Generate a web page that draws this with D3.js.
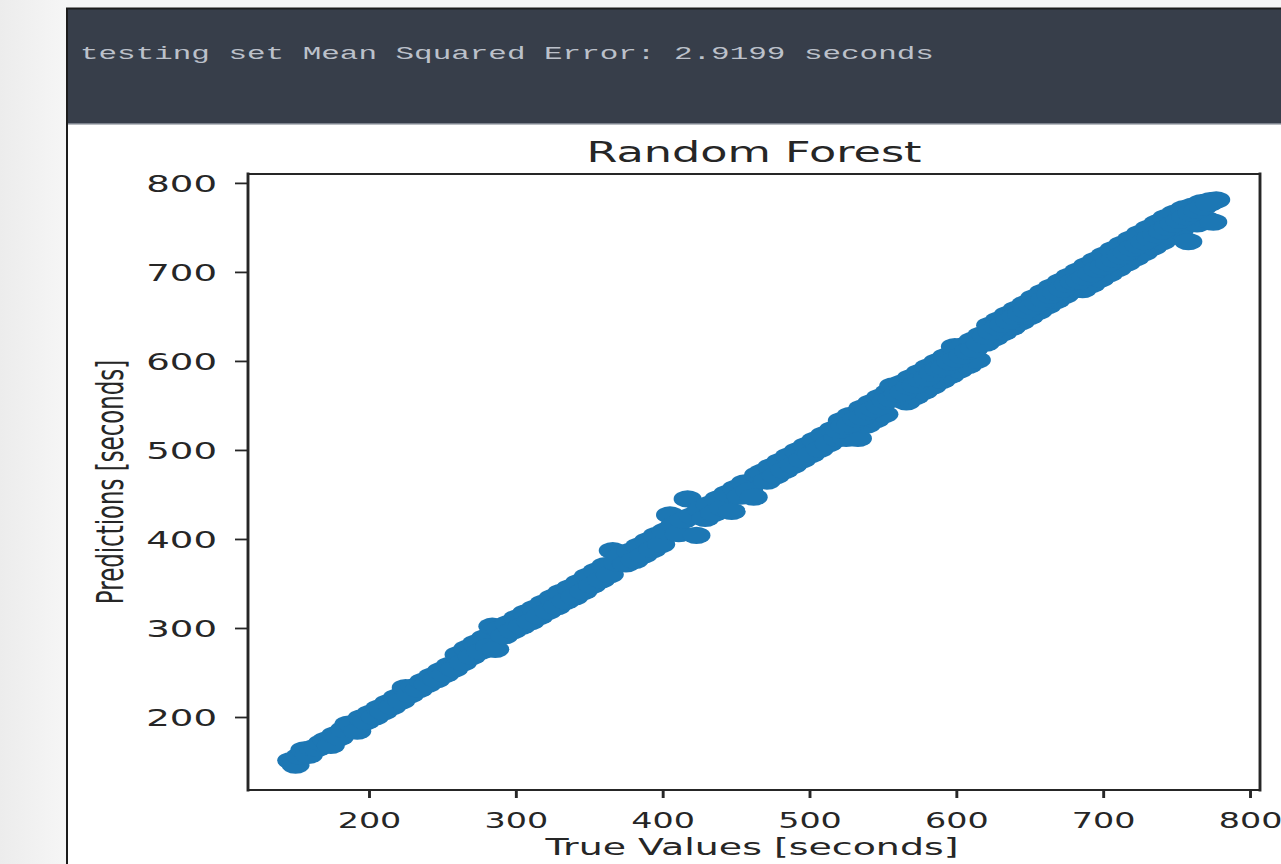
<!DOCTYPE html>
<html>
<head>
<meta charset="utf-8">
<script src="https://cdn.jsdelivr.net/npm/d3@7"></script>
<style>
  html, body { margin: 0; padding: 0; background: #f4f4f4; }
  svg { display: block; }
</style>
</head>
<body>
<svg id="chart" width="1281" height="864"></svg>
<script>
// ---- text ----
const headerText = "testing set Mean Squared Error: 2.9199 seconds";
const chartTitle = "Random Forest";
const xLabel = "True Values [seconds]";
const yLabel = "Predictions [seconds]";

// ---- tick labels ----
const xTicks = [200, 300, 400, 500, 600, 700, 800];
const yTicks = [200, 300, 400, 500, 600, 700, 800];

// ---- test-set samples: true duration vs. model prediction (seconds) ----
const trueValues = [
  147,150,153,156,159,162,165,168,171,174,177,180,183,186,189,192,195,198,201,204,
  207,210,213,216,219,222,225,228,231,234,237,240,243,246,249,252,255,258,
  261,264,267,270,273,276,279,282,284,286,289,292,295,298,301,304,307,310,313,316,
  319,322,325,328,331,334,337,340,343,346,349,352,355,358,361,364,366,369,372,375,
  378,381,384,387,390,393,396,399,402,405,408,411,414,417,420,423,426,429,432,435,
  438,441,444,447,450,453,456,459,462,465,468,471,474,477,480,483,486,489,492,495,
  498,501,504,507,510,513,516,519,
  522,525,528,531,533,536,539,542,545,548,551,554,557,560,563,566,569,572,575,578,
  581,584,587,590,593,596,599,602,605,608,611,614,617,
  620,623,626,629,632,635,638,641,644,647,650,653,656,659,662,665,668,671,674,677,680,
  683,686,689,692,695,698,701,704,707,710,713,716,719,722,725,728,731,734,737,740,
  743,746,749,752,755,758,761,764,767,770,773,775,777,
  520,524,528,532,536,540,544,548,552,556,560,564,568,572,576,580,584,588,592,596,
  600,604,608,612,616,
  620,624,628,632,636,640,644,648,652,656,660,664,668,672,676,680,
  684,688,692,696,700,704,708,712,716,720,724,728,732,736,740,744,748,752,756,760,
  764,768,772
];
const predictedValues = [
  151,146,156,163,157,165,165,171,174,168,180,177,186,192,191,184,199,195,204,200,
  210,206,216,212,222,218,233,225,234,231,240,237,246,242,252,248,258,254,
  270,261,277,268,283,274,289,279,302,276,299,291,305,297,311,302,317,307,322,313,
  328,319,334,324,340,330,345,335,351,341,358,348,364,354,370,360,387,373,382,372,
  386,376,392,382,398,388,404,394,409,427,416,406,421,445,426,404,433,423,439,429,
  445,435,451,431,457,448,463,454,447,472,475,465,481,471,487,477,493,483,499,489,
  505,495,511,501,517,507,523,513,
  533,513,539,519,513,547,528,553,534,559,540,565,572,558,575,554,581,560,587,566,
  593,572,599,578,605,584,616,590,617,595,623,601,629,
  620,640,626,646,632,652,638,658,644,664,650,671,656,677,662,683,668,689,674,695,680,
  701,680,707,686,713,692,719,698,725,704,731,710,737,716,743,722,749,728,755,734,
  761,740,766,746,771,734,774,754,778,759,780,756,781,
  522,527,529,535,537,543,546,549,555,557,563,565,571,573,579,581,586,591,593,599,
  602,606,611,613,619,
  628,633,638,641,645,650,653,657,661,665,669,674,677,681,686,689,
  690,694,698,703,706,710,714,718,722,727,730,734,738,742,746,750,754,758,762,766,
  769,773,777
];

const points = trueValues.map((t, i) => ({ t, p: predictedValues[i] }));

// ---- layout ----
const W = 1281, H = 864;
const SX = 1.62;                 // horizontal stretch of the rendered figure
const plot = { left: 248, right: 1260, top: 174, bottom: 790 };
const ink = "#262626";
const dotColor = "#1f77b4";

const svg = d3.select("#chart");

// page chrome: side gutter, dark output header, white figure area
const defs = svg.append("defs");
const grad = defs.append("linearGradient").attr("id", "gutter").attr("x1", 0).attr("x2", 1);
grad.append("stop").attr("offset", 0).attr("stop-color", "#ececec");
grad.append("stop").attr("offset", 1).attr("stop-color", "#f6f6f6");
defs.append("filter").attr("id", "soft")
  .append("feGaussianBlur").attr("stdDeviation", 0.6);

svg.append("rect").attr("x", 0).attr("y", 0).attr("width", 67).attr("height", H).attr("fill", "url(#gutter)");
svg.append("rect").attr("x", 67).attr("y", 0).attr("width", W - 67).attr("height", 8).attr("fill", "#f5f5f5");
svg.append("rect").attr("x", 68).attr("y", 9).attr("width", W - 68).attr("height", 115).attr("fill", "#373e4a");
svg.append("rect").attr("x", 68).attr("y", 123).attr("width", W - 68).attr("height", 1.5).attr("fill", "#7d838e");
svg.append("rect").attr("x", 68).attr("y", 125).attr("width", W - 68).attr("height", H - 125).attr("fill", "#ffffff");
svg.append("line").attr("x1", 67).attr("x2", 67).attr("y1", 8).attr("y2", H)
  .attr("stroke", "#1c1c1c").attr("stroke-width", 2);
svg.append("line").attr("x1", 66).attr("x2", W).attr("y1", 8.5).attr("y2", 8.5)
  .attr("stroke", "#1c1c1c").attr("stroke-width", 2);

svg.append("text")
  .attr("transform", `translate(80,59) scale(${SX},1)`)
  .attr("font-family", "'Liberation Mono', 'DejaVu Sans Mono', monospace")
  .attr("font-size", 19.1)
  .attr("fill", "#bcc1ca")
  .text(headerText);

// ---- scales ----
const x = d3.scaleLinear().domain([117.6, 806.8]).range([plot.left, plot.right]);
const y = d3.scaleLinear().domain([118, 810]).range([plot.bottom, plot.top]);

// ---- scatter ----
svg.append("g")
  .attr("filter", "url(#soft)")
  .selectAll("ellipse")
  .data(points)
  .join("ellipse")
  .attr("cx", d => x(d.t))
  .attr("cy", d => y(d.p))
  .attr("rx", 14)
  .attr("ry", 8.6)
  .attr("fill", dotColor);

// ---- frame ----
const frame = svg.append("g").attr("stroke", ink).attr("stroke-linecap", "square");
frame.append("line").attr("x1", plot.left).attr("x2", plot.right).attr("y1", plot.top).attr("y2", plot.top).attr("stroke-width", 1.8);
frame.append("line").attr("x1", plot.left).attr("x2", plot.right).attr("y1", plot.bottom).attr("y2", plot.bottom).attr("stroke-width", 1.8);
frame.append("line").attr("x1", plot.left).attr("x2", plot.left).attr("y1", plot.top).attr("y2", plot.bottom).attr("stroke-width", 2.9);
frame.append("line").attr("x1", plot.right).attr("x2", plot.right).attr("y1", plot.top).attr("y2", plot.bottom).attr("stroke-width", 2.9);

// ---- axes ----
const fontFamily = "'DejaVu Sans', Verdana, sans-serif";

const gx = svg.append("g")
  .attr("transform", `translate(0,${plot.bottom})`)
  .call(d3.axisBottom(x).tickValues(xTicks).tickSize(8).tickSizeOuter(0).tickFormat(d3.format("d")));
gx.select(".domain").remove();
gx.selectAll(".tick line").attr("stroke", ink).attr("stroke-width", 2.9);
gx.selectAll(".tick text")
  .attr("y", 38).attr("dy", 0)
  .attr("transform", `scale(${SX},1)`)
  .attr("font-family", fontFamily).attr("font-size", 20.6).attr("fill", ink);

const gy = svg.append("g")
  .attr("transform", `translate(${plot.left},0)`)
  .call(d3.axisLeft(y).tickValues(yTicks).tickSize(13).tickSizeOuter(0).tickFormat(d3.format("d")));
gy.select(".domain").remove();
gy.selectAll(".tick line").attr("stroke", ink).attr("stroke-width", 1.8);
gy.selectAll(".tick text")
  .attr("x", -31 / SX).attr("dy", "0.36em")
  .attr("transform", `scale(${SX},1)`)
  .attr("font-family", fontFamily).attr("font-size", 22.9).attr("fill", ink);

// ---- titles ----
const midX = (plot.left + plot.right) / 2;
const midY = (plot.top + plot.bottom) / 2;

svg.append("text")
  .attr("transform", `translate(${midX},162) scale(${SX},1)`)
  .attr("text-anchor", "middle")
  .attr("font-family", fontFamily).attr("font-size", 27.5).attr("fill", ink)
  .text(chartTitle);

svg.append("text")
  .attr("transform", `translate(${midX - 2},855) scale(${SX},1)`)
  .attr("text-anchor", "middle")
  .attr("font-family", fontFamily).attr("font-size", 23.4).attr("fill", ink)
  .text(xLabel);

svg.append("text")
  .attr("transform", `translate(123,${midY}) scale(${SX},1) rotate(-90)`)
  .attr("text-anchor", "middle")
  .attr("font-family", fontFamily).attr("font-size", 22.9).attr("fill", ink)
  .text(yLabel);
</script>
</body>
</html>
